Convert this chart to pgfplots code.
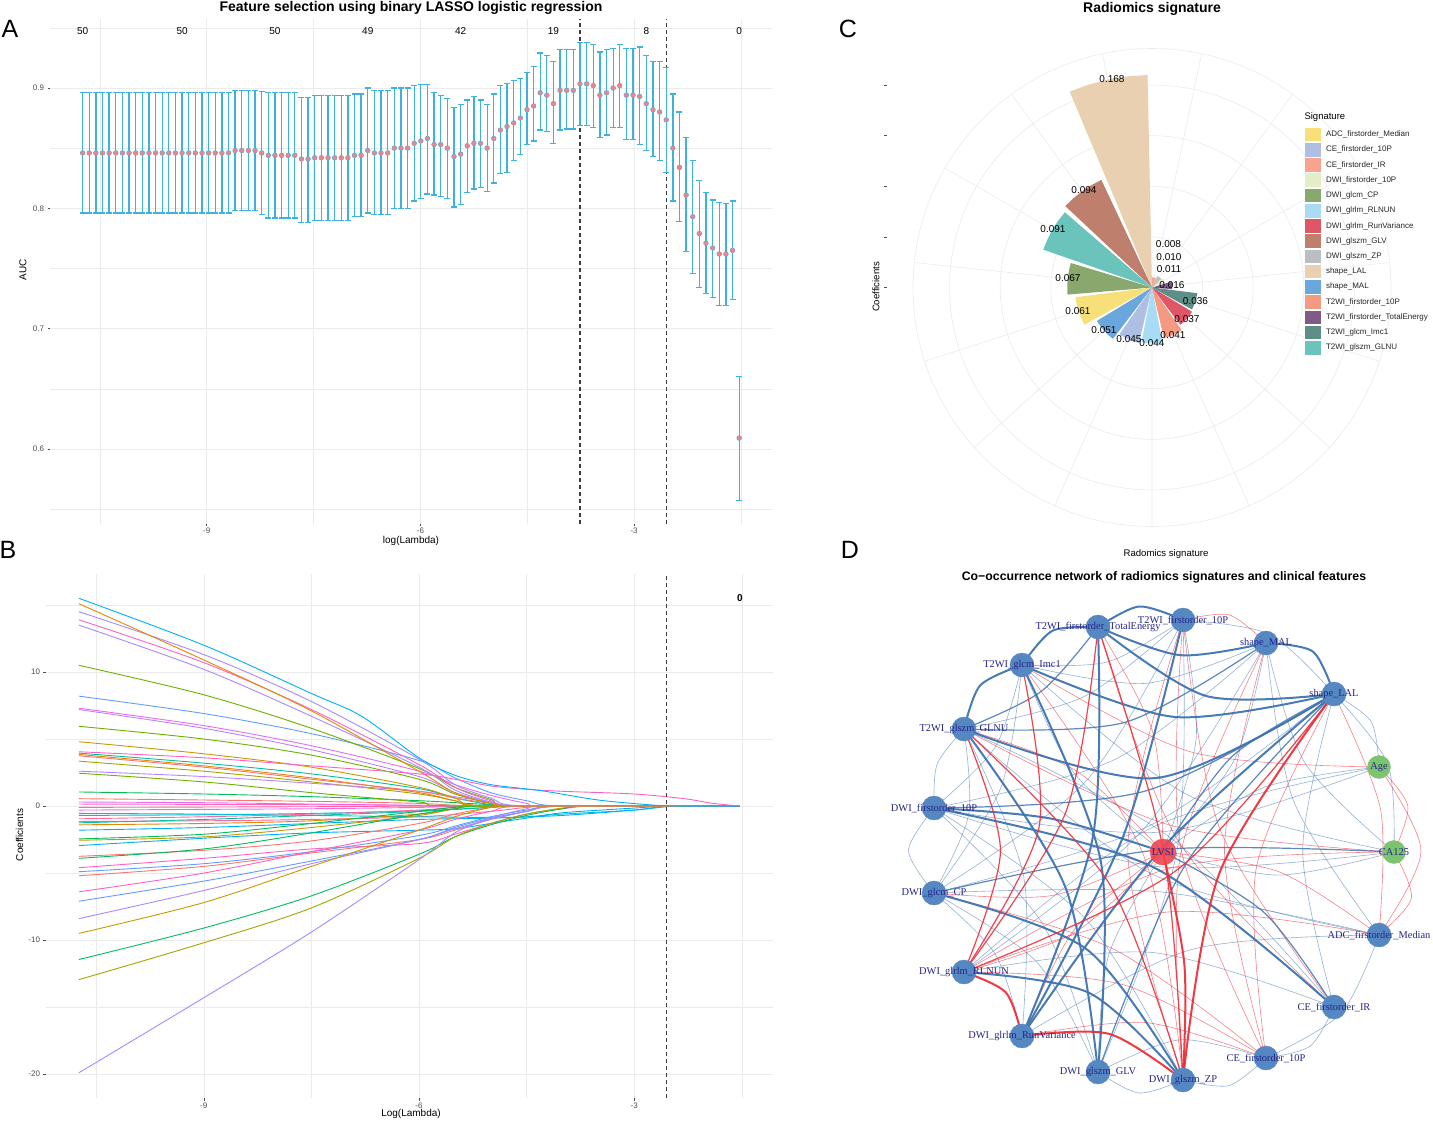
\documentclass[border=0pt]{standalone}
\usepackage{fontspec}
\setmainfont{Liberation Sans}
\newfontfamily\netfont{Liberation Serif}
\usepackage{pgfplots}
\usepackage{pgfplotstable}
\pgfplotsset{compat=1.18}
\usepgfplotslibrary{polar}

\definecolor{gridc}{HTML}{EBEBEB}
\definecolor{tickc}{HTML}{4D4D4D}
\definecolor{errc}{HTML}{3DB3DB}
\definecolor{ptc}{HTML}{E8868C}
\definecolor{dashc}{HTML}{3C3C3C}
% hue palette for coefficient paths
\definecolor{h1}{HTML}{00B0F6}
\definecolor{h2}{HTML}{E58700}
\definecolor{h3}{HTML}{A58AFF}
\definecolor{h4}{HTML}{FF61C3}
\definecolor{h5}{HTML}{6BB100}
\definecolor{h6}{HTML}{619CFF}
\definecolor{h7}{HTML}{B983FF}
\definecolor{h8}{HTML}{C99800}
\definecolor{h9}{HTML}{00BD5C}
\definecolor{h10}{HTML}{00C1A3}
\definecolor{h11}{HTML}{F8766D}
\definecolor{h12}{HTML}{E76BF3}
\definecolor{h13}{HTML}{00BCD8}
\definecolor{h14}{HTML}{A3A500}
\definecolor{h15}{HTML}{FF67A4}
% polar colours
\definecolor{cADC}{HTML}{F7E07A}
\definecolor{cCEt}{HTML}{AEBFE3}
\definecolor{cCEir}{HTML}{F6A48E}
\definecolor{cDWIt}{HTML}{E5EDC7}
\definecolor{cCP}{HTML}{88A86D}
\definecolor{cRLN}{HTML}{A8DCF4}
\definecolor{cRV}{HTML}{DF5767}
\definecolor{cGLV}{HTML}{BF7F6D}
\definecolor{cZP}{HTML}{BABFC4}
\definecolor{cLAL}{HTML}{E8D0B0}
\definecolor{cMAL}{HTML}{6AA7DC}
\definecolor{cTt}{HTML}{F49A82}
\definecolor{cTE}{HTML}{7D5A87}
\definecolor{cIMC}{HTML}{5D8F86}
\definecolor{cGLNU}{HTML}{6BC4BB}
% network colours
\definecolor{nblue}{HTML}{5587C2}
\definecolor{ngreen}{HTML}{7DC46F}
\definecolor{nred}{HTML}{EE4550}
\definecolor{eblue}{HTML}{3E73B1}
\definecolor{ered}{HTML}{EE2E3A}
\definecolor{lblue}{HTML}{24248A}

\newcommand\fsz[1]{\fontsize{#1}{#1}\selectfont}

\pgfplotstableread{
x m lo hi
-10.742 0.846 0.796 0.896
-10.649 0.846 0.796 0.896
-10.556 0.846 0.796 0.896
-10.463 0.846 0.796 0.896
-10.370 0.846 0.796 0.896
-10.277 0.846 0.796 0.896
-10.183 0.846 0.796 0.896
-10.090 0.846 0.796 0.896
-9.997 0.846 0.796 0.896
-9.904 0.846 0.796 0.896
-9.811 0.846 0.796 0.896
-9.718 0.846 0.796 0.896
-9.625 0.846 0.796 0.896
-9.532 0.846 0.796 0.896
-9.439 0.846 0.796 0.896
-9.346 0.846 0.796 0.896
-9.252 0.846 0.796 0.896
-9.159 0.846 0.796 0.896
-9.066 0.846 0.796 0.896
-8.973 0.846 0.796 0.896
-8.880 0.846 0.796 0.896
-8.787 0.846 0.796 0.896
-8.694 0.846 0.796 0.896
-8.601 0.848 0.798 0.898
-8.508 0.848 0.798 0.898
-8.415 0.848 0.798 0.898
-8.321 0.848 0.798 0.898
-8.228 0.846 0.795 0.897
-8.135 0.844 0.792 0.896
-8.042 0.844 0.792 0.896
-7.949 0.844 0.792 0.896
-7.856 0.844 0.792 0.896
-7.763 0.844 0.792 0.896
-7.670 0.841 0.788 0.892
-7.577 0.841 0.788 0.892
-7.484 0.842 0.790 0.894
-7.390 0.842 0.790 0.894
-7.297 0.842 0.790 0.894
-7.204 0.842 0.790 0.894
-7.111 0.842 0.790 0.894
-7.018 0.842 0.790 0.894
-6.925 0.844 0.793 0.895
-6.832 0.844 0.793 0.895
-6.739 0.848 0.796 0.900
-6.646 0.846 0.795 0.898
-6.553 0.846 0.795 0.898
-6.459 0.846 0.795 0.898
-6.366 0.850 0.800 0.900
-6.273 0.850 0.800 0.900
-6.180 0.850 0.800 0.900
-6.087 0.854 0.806 0.902
-5.994 0.856 0.808 0.903
-5.901 0.858 0.812 0.903
-5.808 0.853 0.811 0.896
-5.715 0.853 0.810 0.894
-5.622 0.850 0.808 0.891
-5.528 0.843 0.801 0.884
-5.435 0.845 0.803 0.886
-5.342 0.852 0.813 0.890
-5.249 0.854 0.816 0.893
-5.156 0.854 0.817 0.890
-5.063 0.850 0.814 0.886
-4.970 0.858 0.821 0.895
-4.877 0.865 0.829 0.902
-4.784 0.868 0.830 0.904
-4.691 0.871 0.840 0.906
-4.597 0.875 0.845 0.908
-4.504 0.882 0.853 0.913
-4.411 0.885 0.856 0.918
-4.318 0.896 0.865 0.929
-4.225 0.894 0.864 0.927
-4.132 0.887 0.854 0.922
-4.039 0.898 0.865 0.932
-3.946 0.898 0.866 0.932
-3.853 0.898 0.866 0.932
-3.760 0.9035 0.869 0.938
-3.666 0.9035 0.869 0.938
-3.573 0.902 0.867 0.936
-3.480 0.894 0.859 0.930
-3.387 0.896 0.861 0.932
-3.294 0.900 0.867 0.933
-3.201 0.902 0.867 0.936
-3.108 0.894 0.857 0.933
-3.015 0.894 0.857 0.933
-2.922 0.893 0.853 0.934
-2.829 0.887 0.848 0.927
-2.735 0.882 0.843 0.922
-2.642 0.880 0.840 0.922
-2.549 0.8735 0.830 0.917
-2.456 0.850 0.806 0.895
-2.363 0.834 0.789 0.880
-2.270 0.811 0.764 0.859
-2.177 0.793 0.746 0.840
-2.084 0.779 0.734 0.823
-1.991 0.771 0.729 0.813
-1.898 0.767 0.726 0.807
-1.804 0.762 0.719 0.805
-1.711 0.762 0.719 0.804
-1.618 0.765 0.724 0.806
-1.525 0.609 0.557 0.660
}\aucdata

% network node positions (relative to LVSI)
\def\NTEx{-65}\def\NTEy{225}
\def\NTTx{20}\def\NTTy{232}
\def\NMALx{103}\def\NMALy{209}
\def\NLALx{171}\def\NLALy{158}
\def\NAGEx{216}\def\NAGEy{85}
\def\NCAx{231}\def\NCAy{0}
\def\NADCx{216}\def\NADCy{-83}
\def\NCEIRx{171}\def\NCEIRy{-155}
\def\NCETx{103}\def\NCETy{-206}
\def\NZPx{20}\def\NZPy{-228}
\def\NGLVx{-65}\def\NGLVy{-220}
\def\NRVx{-141}\def\NRVy{-184}
\def\NRLNx{-199}\def\NRLNy{-120}
\def\NCPx{-229}\def\NCPy{-41}
\def\NDTx{-229}\def\NDTy{44}
\def\NGLNUx{-199}\def\NGLNUy{123}
\def\NIMCx{-141}\def\NIMCy{187}
\def\NLVSIx{0}\def\NLVSIy{0}

\newcommand\E[4]{%
  \pgfmathsetmacro\eAx{\csname N#2x\endcsname}%
  \pgfmathsetmacro\eAy{\csname N#2y\endcsname}%
  \pgfmathsetmacro\eBx{\csname N#3x\endcsname}%
  \pgfmathsetmacro\eBy{\csname N#3y\endcsname}%
  \pgfmathsetmacro\eNx{-(\eBy-\eAy)}%
  \pgfmathsetmacro\eNy{\eBx-\eAx}%
  \pgfmathsetmacro\eMx{(\eAx+\eBx)/2}%
  \pgfmathsetmacro\eMy{(\eAy+\eBy)/2}%
  \pgfmathsetmacro\eDt{(\eNx/100)*(-\eMx/100)+(\eNy/100)*(-\eMy/100)}%
  \pgfmathsetmacro\eSg{\eDt<0?-1:1}%
  \pgfmathsetmacro\ePx{\eMx+#4*\eSg*\eNx}%
  \pgfmathsetmacro\ePy{\eMy+#4*\eSg*\eNy}%
  \addplot[#1, smooth] coordinates {(\eAx,\eAy) (\ePx,\ePy) (\eBx,\eBy)};%
}

\tikzset{
  bn/.style={draw=eblue, draw opacity=0.55, line width=0.6pt},
  bm/.style={draw=eblue, draw opacity=0.85, line width=1.2pt},
  bt/.style={draw=eblue, draw opacity=0.95, line width=2pt},
  rn/.style={draw=ered, draw opacity=0.6, line width=0.6pt},
  rm/.style={draw=ered, draw opacity=0.9, line width=1.2pt},
  rt/.style={draw=ered, draw opacity=0.95, line width=2pt},
  cl/.style={line width=0.9pt, smooth},
  nl/.style={font=\netfont\fsz{10.4}, text=lblue},
}

\begin{document}
\begin{tikzpicture}
\path[use as bounding box] (0,0) rectangle (1433pt,-1120pt);

% ---------------- Panel A ----------------
\begin{axis}[
  at={(50pt,-523.5pt)}, anchor=south west,
  scale only axis, width=722pt, height=504.1pt,
  xmin=-11.2, xmax=-1.064, ymin=0.538, ymax=0.957,
  axis line style={draw=none},
  xtick={-9,-6,-3}, xticklabels={-9,-6,-3},
  ytick={0.6,0.7,0.8,0.9}, yticklabels={0.6,0.7,0.8,0.9},
  minor xtick={-10.5,-7.5,-4.5,-1.5},
  minor ytick={0.55,0.65,0.75,0.85,0.95},
  grid=both,
  major grid style={gridc, line width=0.5pt},
  minor grid style={gridc, line width=0.3pt},
  tick align=outside, tick pos=left,
  major tick length=2.5pt, minor tick length=0pt,
  tick style={tickc, line width=0.5pt},
  ticklabel style={font=\fsz{8}, text=tickc},
  xticklabel style={yshift=1.5pt},
  clip=false,
]
\addplot[dashc, line width=1.2pt, dash pattern=on 4pt off 3pt] coordinates {(-3.760,0.538) (-3.760,0.957)};
\addplot[dashc, line width=1.2pt, dash pattern=on 4pt off 3pt] coordinates {(-2.549,0.538) (-2.549,0.957)};
\addplot[errc, line width=1.3pt, only marks, mark=none,
  error bars/.cd, y dir=both, y explicit,
  error bar style={errc, line width=1.3pt, solid},
  error mark options={errc, line width=1.3pt, mark size=3pt, rotate=90}]
  table[x=x, y=m, y error plus expr={\thisrow{hi}-\thisrow{m}}, y error minus expr={\thisrow{m}-\thisrow{lo}}] {\aucdata};
\addplot[ptc, only marks, mark=*, mark size=2pt] table[x=x, y=m] {\aucdata};
\node[font=\fsz{10}] at (axis cs:-10.742,0.9474) {50};
\node[font=\fsz{10}] at (axis cs:-9.346,0.9474) {50};
\node[font=\fsz{10}] at (axis cs:-8.042,0.9474) {50};
\node[font=\fsz{10}] at (axis cs:-6.739,0.9474) {49};
\node[font=\fsz{10}] at (axis cs:-5.435,0.9474) {42};
\node[font=\fsz{10}] at (axis cs:-4.132,0.9474) {19};
\node[font=\fsz{10}] at (axis cs:-2.829,0.9474) {8};
\node[font=\fsz{10}] at (axis cs:-1.525,0.9474) {0};
\end{axis}

% ---------------- Panel B ----------------
\begin{axis}[
  at={(46pt,-1098pt)}, anchor=south west,
  scale only axis, width=727pt, height=523.6pt,
  xmin=-11.2, xmax=-1.064, ymin=-21.78, ymax=17.28,
  axis line style={draw=none},
  xtick={-9,-6,-3}, xticklabels={-9,-6,-3},
  ytick={-20,-10,0,10}, yticklabels={-20,-10,0,10},
  minor xtick={-10.5,-7.5,-4.5,-1.5},
  minor ytick={-15,-5,5,15},
  grid=both,
  major grid style={gridc, line width=0.5pt},
  minor grid style={gridc, line width=0.3pt},
  tick align=outside, tick pos=left,
  major tick length=2.5pt, minor tick length=0pt,
  tick style={tickc, line width=0.5pt},
  ticklabel style={font=\fsz{8}, text=tickc},
  xticklabel style={yshift=1.5pt},
  clip=false,
]
\addplot[h13, cl] coordinates {(-10.742,-0.7)(-9,-0.65)(-7.5,-0.55)(-6,-0.35)(-5,-0.1)(-4.5,0)(-1.525,0)};
\addplot[h12, cl] coordinates {(-10.742,0.3)(-9,0.25)(-7.5,0.15)(-6,0.05)(-5.5,0)(-1.525,0)};
\addplot[h15, cl] coordinates {(-10.742,-1.15)(-9,-1.1)(-7.5,-1.0)(-6,-0.8)(-5,-0.4)(-4.5,-0.1)(-4,0)(-1.525,0)};
\addplot[h9, cl] coordinates {(-10.742,1.05)(-9,0.9)(-7.5,0.7)(-6,0.4)(-5,0.1)(-4.5,0)(-1.525,0)};
\addplot[h11, cl] coordinates {(-10.742,0.55)(-9,0.45)(-7.5,0.35)(-6,0.2)(-5,0)(-1.525,0)};
\addplot[h4, cl] coordinates {(-10.742,0.15)(-7.5,0.1)(-6,0.05)(-5,0)(-1.525,0)};
\addplot[h15, cl] coordinates {(-10.742,-0.1)(-7.5,-0.05)(-5.5,0)(-1.525,0)};
\addplot[h12, cl] coordinates {(-10.742,-0.3)(-7.5,-0.2)(-6,-0.1)(-5,0)(-1.525,0)};
\addplot[h13, cl] coordinates {(-10.742,-0.55)(-9,-0.6)(-7.5,-0.7)(-6,-0.8)(-5,-0.85)(-4.5,-0.8)(-4,-0.6)(-3,-0.3)(-2.4,0)(-1.525,0)};
\addplot[h15, cl] coordinates {(-10.742,-0.95)(-9,-0.8)(-7.5,-0.6)(-6,-0.3)(-5,0)(-1.525,0)};
\addplot[h10, cl] coordinates {(-10.742,-1.25)(-9,-1.0)(-7.5,-0.7)(-6,-0.4)(-5,-0.1)(-4.5,0)(-1.525,0)};
\addplot[h2, cl] coordinates {(-10.742,-1.4)(-9,-1.3)(-7.5,-1.1)(-6,-0.6)(-5.5,-0.2)(-5,0)(-1.525,0)};
\addplot[h1, cl] coordinates {(-10.742,-1.8)(-9,-1.6)(-7.5,-1.3)(-6,-1.0)(-5,-0.9)(-4,-0.7)(-3,-0.3)(-2.5,0)(-1.525,0)};
\addplot[h9, cl] coordinates {(-10.742,-2.45)(-9,-2.1)(-7.5,-1.3)(-6,-0.4)(-5.5,-0.1)(-5,0)(-1.525,0)};
\addplot[h8, cl] coordinates {(-10.742,-2.55)(-9,-2.3)(-7.5,-1.6)(-6,-0.7)(-5.5,-0.2)(-5,0)(-1.525,0)};
\addplot[h1, cl] coordinates {(-10.742,-2.95)(-9,-2.4)(-7.5,-2.0)(-6,-1.8)(-5.5,-1.7)(-5,-1.3)(-4.5,-0.9)(-4,-0.5)(-3,-0.15)(-2.5,0)(-1.525,0)};
\addplot[h11, cl] coordinates {(-10.742,-3.75)(-9,-3.3)(-7.5,-2.6)(-6,-1.3)(-5.5,-0.6)(-5,-0.1)(-4.7,0)(-1.525,0)};
\addplot[h9, cl] coordinates {(-10.742,-3.9)(-9,-3.2)(-7.5,-2.0)(-6,-0.6)(-5.5,-0.2)(-5,0)(-1.525,0)};
\addplot[h4, cl] coordinates {(-10.742,-4.6)(-9,-3.9)(-7.5,-3.2)(-6,-2.8)(-5.5,-2.1)(-5,-1.3)(-4.5,-0.6)(-4,-0.2)(-3.5,0)(-1.525,0)};
\addplot[h6, cl] coordinates {(-10.742,-4.9)(-9,-4.3)(-7.5,-3.4)(-6,-2.2)(-5.5,-1.5)(-5,-0.8)(-4.5,-0.3)(-4,0)(-1.525,0)};
\addplot[h11, cl] coordinates {(-10.742,-5.2)(-9,-4.5)(-7.5,-3.5)(-6,-2.5)(-5.5,-1.8)(-5,-1.0)(-4.5,-0.4)(-4,0)(-1.525,0)};
\addplot[h4, cl] coordinates {(-10.742,-6.4)(-9,-5.0)(-7.5,-3.4)(-6,-1.8)(-5.5,-1.0)(-5,-0.4)(-4.5,0)(-1.525,0)};
\addplot[h6, cl] coordinates {(-10.742,-7.1)(-9,-5.6)(-7.5,-4.1)(-6,-2.5)(-5.5,-1.6)(-5,-0.9)(-4.5,-0.4)(-4,0)(-1.525,0)};
\addplot[h3, cl] coordinates {(-10.742,-8.4)(-9,-6.3)(-7.5,-4.3)(-6,-2.5)(-5.5,-1.7)(-5,-1.0)(-4.5,-0.4)(-4,0)(-1.525,0)};
\addplot[h8, cl] coordinates {(-10.742,-9.5)(-9,-7.2)(-7.5,-4.5)(-6,-1.8)(-5.5,-0.8)(-5,-0.1)(-4.7,0)(-1.525,0)};
\addplot[h9, cl] coordinates {(-10.742,-11.45)(-9,-9.1)(-7.5,-6.7)(-6,-3.6)(-5.5,-2.3)(-5,-1.4)(-4.5,-0.7)(-4,-0.2)(-3.6,0)(-1.525,0)};
\addplot[h14, cl] coordinates {(-10.742,-12.95)(-9,-10.2)(-7.5,-7.6)(-6,-3.9)(-5.5,-2.3)(-5,-1.3)(-4.5,-0.6)(-4,-0.15)(-3.6,0)(-1.525,0)};
\addplot[h3, cl] coordinates {(-10.742,-19.9)(-9,-14.3)(-7.5,-9.4)(-6,-4.0)(-5.5,-2.0)(-5,-0.9)(-4.5,-0.2)(-4.2,0)(-1.525,0)};
\addplot[h14, cl] coordinates {(-10.742,3.35)(-9,2.6)(-7.5,1.8)(-6,0.9)(-5.5,0.4)(-5,0)(-1.525,0)};
\addplot[h7, cl] coordinates {(-10.742,2.6)(-9,2.2)(-7.5,1.7)(-6,1.1)(-5.5,0.7)(-5,0.3)(-4.5,0)(-1.525,0)};
\addplot[h5, cl] coordinates {(-10.742,2.45)(-9,1.8)(-7.5,1.0)(-6,0.3)(-5.5,0)(-1.525,0)};
\addplot[h10, cl] coordinates {(-10.742,3.95)(-9,3.2)(-7.5,2.4)(-6,1.3)(-5.5,0.6)(-5,0.1)(-4.7,0)(-1.525,0)};
\addplot[h2, cl] coordinates {(-10.742,3.85)(-9,3.0)(-7.5,2.1)(-6,1.0)(-5.5,0.4)(-5,0)(-1.525,0)};
\addplot[h11, cl] coordinates {(-10.742,3.75)(-9,2.9)(-7.5,2.0)(-6,1.1)(-5.5,0.6)(-5,0.2)(-4.6,0)(-1.525,0)};
\addplot[h8, cl] coordinates {(-10.742,4.8)(-9,3.9)(-7.5,2.9)(-6,1.4)(-5.5,0.6)(-5,0)(-1.525,0)};
\addplot[h5, cl] coordinates {(-10.742,5.95)(-9,5.0)(-7.5,3.8)(-6,2.0)(-5.5,0.9)(-5,0.2)(-4.7,0)(-1.525,0)};
\addplot[h7, cl] coordinates {(-10.742,7.2)(-9,5.8)(-7.5,4.2)(-6,2.2)(-5.5,1.0)(-5,0.3)(-4.6,0)(-1.525,0)};
\addplot[h12, cl] coordinates {(-10.742,7.3)(-9,6.0)(-7.5,4.5)(-6,2.6)(-5.5,1.6)(-5,0.8)(-4.5,0.2)(-4.2,0)(-1.525,0)};
\addplot[h6, cl] coordinates {(-10.742,8.2)(-9,6.9)(-7.5,5.4)(-6,3.4)(-5.5,2.1)(-5,1.0)(-4.5,0.4)(-4,0)(-1.525,0)};
\addplot[h5, cl] coordinates {(-10.742,10.5)(-9,8.3)(-7.5,5.8)(-6,2.8)(-5.5,1.4)(-5,0.5)(-4.6,0)(-1.525,0)};
\addplot[h3, cl] coordinates {(-10.742,13.5)(-9,10.2)(-7.5,6.7)(-6,2.9)(-5.5,1.2)(-5,0.3)(-4.6,0)(-1.525,0)};
\addplot[h4, cl] coordinates {(-10.742,13.9)(-9,10.7)(-7.5,7.2)(-6,3.1)(-5.5,1.4)(-5,0.4)(-4.6,0)(-1.525,0)};
\addplot[h3, cl] coordinates {(-10.742,14.5)(-9,11.3)(-7.5,7.8)(-6,3.5)(-5.5,1.6)(-5,0.6)(-4.5,0)(-1.525,0)};
\addplot[h2, cl] coordinates {(-10.742,15.1)(-9,10.9)(-7.5,7.1)(-6,2.6)(-5.5,1.0)(-5,0.2)(-4.6,0)(-1.525,0)};
\addplot[h4, cl] coordinates {(-10.742,4.05)(-9,3.6)(-7.5,3.0)(-6,2.4)(-5.5,2.0)(-5,1.5)(-4.5,1.25)(-4,1.1)(-3,0.9)(-2.3,0.55)(-1.9,0.2)(-1.525,0)};
\addplot[h1, cl] coordinates {(-10.742,15.5)(-9,12.0)(-7.5,8.4)(-6.8,6.7)(-6,3.6)(-5.5,2.3)(-5,1.6)(-4.3,1.15)(-3.5,0.45)(-2.8,0.1)(-2.4,0)(-1.525,0)};
\addplot[dashc, line width=1.2pt, dash pattern=on 4pt off 3pt] coordinates {(-2.549,-21.78) (-2.549,17.28)};
\node[font=\bfseries\fsz{10}] at (axis cs:-1.525,15.52) {0};
\end{axis}

% ---------------- Panel C ----------------
\begin{polaraxis}[
  at={(1152pt,-287.5pt)}, anchor=center,
  scale only axis, width=478pt, height=478pt,
  ymin=0, ymax=0.1889,
  xtick={6,30,...,342}, ytick={0.04,0.08,0.12,0.16},
  xticklabels={}, yticklabels={},
  grid=major, major grid style={gridc, line width=0.6pt},
  x axis line style={gridc, line width=0.6pt},
  y axis line style={draw=none},
  major tick length=0pt,
  clip=false,
]
\addplot[fill=cLAL, draw=none] coordinates {(91.2,0) (91.2,0.168) (96.6,0.168) (102,0.168) (107.4,0.168) (112.8,0.168) (112.8,0)};
\addplot[fill=cGLV, draw=none] coordinates {(115.2,0) (115.2,0.094) (120.6,0.094) (126,0.094) (131.4,0.094) (136.8,0.094) (136.8,0)};
\addplot[fill=cGLNU, draw=none] coordinates {(139.2,0) (139.2,0.091) (144.6,0.091) (150,0.091) (155.4,0.091) (160.8,0.091) (160.8,0)};
\addplot[fill=cCP, draw=none] coordinates {(163.2,0) (163.2,0.067) (168.6,0.067) (174,0.067) (179.4,0.067) (184.8,0.067) (184.8,0)};
\addplot[fill=cADC, draw=none] coordinates {(187.2,0) (187.2,0.061) (192.6,0.061) (198,0.061) (203.4,0.061) (208.8,0.061) (208.8,0)};
\addplot[fill=cMAL, draw=none] coordinates {(211.2,0) (211.2,0.051) (216.6,0.051) (222,0.051) (227.4,0.051) (232.8,0.051) (232.8,0)};
\addplot[fill=cCEt, draw=none] coordinates {(235.2,0) (235.2,0.045) (240.6,0.045) (246,0.045) (251.4,0.045) (256.8,0.045) (256.8,0)};
\addplot[fill=cRLN, draw=none] coordinates {(259.2,0) (259.2,0.044) (264.6,0.044) (270,0.044) (275.4,0.044) (280.8,0.044) (280.8,0)};
\addplot[fill=cTt, draw=none] coordinates {(283.2,0) (283.2,0.041) (288.6,0.041) (294,0.041) (299.4,0.041) (304.8,0.041) (304.8,0)};
\addplot[fill=cRV, draw=none] coordinates {(307.2,0) (307.2,0.037) (312.6,0.037) (318,0.037) (323.4,0.037) (328.8,0.037) (328.8,0)};
\addplot[fill=cIMC, draw=none] coordinates {(331.2,0) (331.2,0.036) (336.6,0.036) (342,0.036) (347.4,0.036) (352.8,0.036) (352.8,0)};
\addplot[fill=cTE, draw=none] coordinates {(355.2,0) (355.2,0.016) (0.6,0.016) (6,0.016) (11.4,0.016) (16.8,0.016) (16.8,0)};
\addplot[fill=cDWIt, draw=none] coordinates {(19.2,0) (19.2,0.011) (24.6,0.011) (30,0.011) (35.4,0.011) (40.8,0.011) (40.8,0)};
\addplot[fill=cZP, draw=none] coordinates {(43.2,0) (43.2,0.010) (48.6,0.010) (54,0.010) (59.4,0.010) (64.8,0.010) (64.8,0)};
\addplot[fill=cCEir, draw=none] coordinates {(67.2,0) (67.2,0.008) (72.6,0.008) (78,0.008) (83.4,0.008) (88.8,0.008) (88.8,0)};
\end{polaraxis}

% ---------------- Panel D ----------------
\begin{axis}[
  at={(903pt,-1112pt)}, anchor=south west,
  x=1pt, y=1pt,
  xmin=-260, xmax=260, ymin=-260, ymax=260,
  hide axis, clip=false,
]
% thin blue
\E{bn}{TT}{LAL}{-0.15}
\E{bn}{TT}{LVSI}{0.1}
\E{bn}{TT}{GLNU}{0.1}
\E{bn}{TT}{IMC}{0.12}
\E{bn}{TT}{CP}{0.1}
\E{bn}{TT}{GLV}{0.08}
\E{bn}{MAL}{IMC}{0.12}
\E{bn}{MAL}{DT}{0.1}
\E{bn}{MAL}{RLN}{0.08}
\E{bn}{MAL}{CA}{0.12}
\E{bn}{MAL}{ADC}{0.1}
\E{bn}{MAL}{LVSI}{0.1}
\E{bn}{LAL}{CA}{-0.15}
\E{bn}{LAL}{AGE}{-0.2}
\E{bn}{LAL}{CEIR}{0.1}
\E{bn}{LAL}{CP}{0.08}
\E{bn}{AGE}{DT}{0.1}
\E{bn}{AGE}{RLN}{0.1}
\E{bn}{AGE}{LVSI}{0.1}
\E{bn}{CA}{DT}{0.08}
\E{bn}{CA}{LVSI}{0.1}
\E{bn}{CA}{IMC}{0.1}
\E{bn}{ADC}{CET}{-0.15}
\E{bn}{ADC}{RV}{0.1}
\E{bn}{ADC}{GLNU}{0.1}
\E{bn}{ADC}{CP}{0.05}
\E{bn}{CEIR}{CET}{-0.2}
\E{bn}{CEIR}{RLN}{0.1}
\E{bn}{CEIR}{GLNU}{0.08}
\E{bn}{CET}{ZP}{-0.2}
\E{bn}{CET}{GLV}{0.15}
\E{bn}{ZP}{GLV}{-0.2}
\E{bn}{ZP}{DT}{0.1}
\E{bn}{GLV}{DT}{0.1}
\E{bn}{GLV}{CP}{0.12}
\E{bn}{GLV}{LVSI}{0.1}
\E{bn}{RV}{CP}{0.12}
\E{bn}{RV}{GLNU}{0.1}
\E{bn}{CP}{DT}{-0.3}
\E{bn}{CP}{GLNU}{0.12}
\E{bn}{CP}{IMC}{0.1}
\E{bn}{DT}{GLNU}{-0.15}
\E{bn}{DT}{IMC}{0.12}
\E{bn}{IMC}{LVSI}{0.1}
% thin red
\E{rn}{TT}{MAL}{-0.2}
\E{rn}{TT}{CET}{0.1}
\E{rn}{TT}{ZP}{0.12}
\E{rn}{TT}{CEIR}{0.1}
\E{rn}{MAL}{CET}{0.1}
\E{rn}{MAL}{ZP}{0.1}
\E{rn}{LAL}{CET}{0.12}
\E{rn}{LAL}{ADC}{-0.1}
\E{rn}{AGE}{CA}{-0.25}
\E{rn}{AGE}{ADC}{-0.25}
\E{rn}{AGE}{IMC}{0.1}
\E{rn}{CA}{ADC}{-0.3}
\E{rn}{CA}{GLNU}{0.08}
\E{rn}{CA}{RLN}{0.1}
\E{rn}{ADC}{RLN}{0.1}
\E{rn}{ADC}{LVSI}{0.1}
\E{rn}{CET}{RV}{0.1}
\E{rn}{CET}{RLN}{0.1}
\E{rn}{RV}{LVSI}{0.1}
\E{rn}{RLN}{LVSI}{0.1}
\E{rn}{CP}{LVSI}{0.1}
\E{rn}{CP}{CET}{0.08}
\E{rn}{GLNU}{LVSI}{0.1}
\E{rn}{TE}{LVSI}{0.1}
\E{rn}{IMC}{ZP}{0.1}
\E{rn}{TE}{CEIR}{0.1}
% medium blue
\E{bm}{GLNU}{TE}{0.1}
\E{bm}{DT}{LAL}{0.1}
\E{bm}{CP}{CA}{0.05}
\E{bm}{GLV}{LAL}{0.08}
\E{bm}{LVSI}{CEIR}{0.1}
\E{bm}{LVSI}{LAL}{0.1}
\E{bm}{MAL}{GLNU}{0.12}
% thick blue
\E{bt}{TE}{LAL}{0.15}
\E{bt}{IMC}{LAL}{0.12}
\E{bt}{GLNU}{LAL}{0.18}
\E{bt}{TE}{MAL}{0.12}
\E{bt}{TE}{TT}{-0.2}
\E{bt}{TE}{IMC}{-0.2}
\E{bt}{IMC}{GLNU}{-0.2}
\E{bt}{GLNU}{GLV}{0.1}
\E{bt}{IMC}{GLV}{0.1}
\E{bt}{TE}{RV}{0.08}
\E{bt}{TT}{RV}{0.05}
\E{bt}{RV}{LAL}{0.05}
\E{bt}{DT}{LVSI}{0.05}
\E{bt}{DT}{CEIR}{0.1}
\E{bt}{CP}{ZP}{0.15}
\E{bt}{RLN}{ZP}{0.15}
\E{bt}{MAL}{LAL}{-0.25}
% red medium / thick
\E{rm}{IMC}{RLN}{0.15}
\E{rm}{GLNU}{ZP}{0.1}
\E{rm}{GLNU}{RLN}{0.15}
\E{rm}{TE}{RLN}{0.1}
\E{rm}{TE}{ZP}{0.05}
\E{rm}{LAL}{RLN}{0.1}
\E{rt}{RLN}{RV}{0.2}
\E{rt}{RV}{ZP}{0.15}
\E{rt}{LVSI}{ZP}{0.05}
\E{rt}{LAL}{ZP}{0.1}
% nodes
\addplot[nblue, only marks, mark=*, mark size=12pt] coordinates {
(-65,225) (20,232) (103,209) (171,158) (216,-83) (171,-155) (103,-206) (20,-228)
(-65,-220) (-141,-184) (-199,-120) (-229,-41) (-229,44) (-199,123) (-141,187)};
\addplot[ngreen, only marks, mark=*, mark size=11.5pt] coordinates {(216,85) (231,0)};
\addplot[nred, only marks, mark=*, mark size=13pt, opacity=0.9] coordinates {(0,0)};
\end{axis}

% network labels (on top of nodes)
\begin{scope}[every node/.style={nl}]
\node at (1098pt,-627pt) {T2WI\_firstorder\_TotalEnergy};
\node at (1183pt,-620pt) {T2WI\_firstorder\_10P};
\node at (1266pt,-643pt) {shape\_MAL};
\node at (1334pt,-694pt) {shape\_LAL};
\node at (1379pt,-767pt) {Age};
\node at (1394pt,-852pt) {CA125};
\node at (1379pt,-935pt) {ADC\_firstorder\_Median};
\node at (1334pt,-1007pt) {CE\_firstorder\_IR};
\node at (1266pt,-1058pt) {CE\_firstorder\_10P};
\node at (1183pt,-1080pt) {DWI\_glszm\_ZP};
\node at (1098pt,-1072pt) {DWI\_glszm\_GLV};
\node at (1022pt,-1036pt) {DWI\_glrlm\_RunVariance};
\node at (964pt,-972pt) {DWI\_glrlm\_RLNUN};
\node at (934pt,-893pt) {DWI\_glcm\_CP};
\node at (934pt,-808pt) {DWI\_firstorder\_10P};
\node at (964pt,-729pt) {T2WI\_glszm\_GLNU};
\node at (1022pt,-665pt) {T2WI\_glcm\_Imc1};
\node at (1163pt,-852pt) {LVSI};
\end{scope}

% ---------------- texts ----------------
\node[font=\bfseries\fsz{14}] at (411pt,-7.5pt) {Feature selection using binary LASSO logistic regression};
\node[font=\fsz{10}, rotate=90] at (23pt,-270pt) {AUC};
\node[font=\fsz{10}] at (411pt,-541pt) {log(Lambda)};
\node[font=\fsz{10}, rotate=90] at (19.5pt,-835pt) {Coefficients};
\node[font=\fsz{10}] at (411pt,-1113.5pt) {Log(Lambda)};

\node[font=\bfseries\fsz{14}] at (1152pt,-9pt) {Radiomics signature};
\node[font=\fsz{9.6}, rotate=90] at (876pt,-287pt) {Coefficients};
\node[font=\fsz{9.6}] at (1166pt,-554pt) {Radomics signature};
\foreach \yy in {85,135.6,186.2,236.9,287.5} {\draw[tickc, line width=0.6pt] (884pt,-\yy pt) -- (887pt,-\yy pt);}
\begin{scope}[every node/.style={font=\fsz{10}}]
\node at (1112pt,-79pt) {0.168};
\node at (1084pt,-190pt) {0.094};
\node at (1053pt,-229pt) {0.091};
\node at (1068pt,-278pt) {0.067};
\node at (1078pt,-311pt) {0.061};
\node at (1104pt,-330pt) {0.051};
\node at (1129pt,-339pt) {0.045};
\node at (1152pt,-343.5pt) {0.044};
\node at (1173pt,-335pt) {0.041};
\node at (1187pt,-319pt) {0.037};
\node at (1195.5pt,-301pt) {0.036};
\node at (1172pt,-285.5pt) {0.016};
\node at (1169pt,-269.5pt) {0.011};
\node at (1169pt,-257pt) {0.010};
\node at (1168.5pt,-244.5pt) {0.008};
\end{scope}
\node[anchor=west, font=\fsz{9.5}] at (1301pt,-117pt) {Signature};
\foreach \cc/\tt [count=\i from 0] in {cADC/ADC\_firstorder\_Median, cCEt/CE\_firstorder\_10P, cCEir/CE\_firstorder\_IR, cDWIt/DWI\_firstorder\_10P, cCP/DWI\_glcm\_CP, cRLN/DWI\_glrlm\_RLNUN, cRV/DWI\_glrlm\_RunVariance, cGLV/DWI\_glszm\_GLV, cZP/DWI\_glszm\_ZP, cLAL/shape\_LAL, cMAL/shape\_MAL, cTt/T2WI\_firstorder\_10P, cTE/T2WI\_firstorder\_TotalEnergy, cIMC/T2WI\_glcm\_Imc1, cGLNU/T2WI\_glszm\_GLNU} {
  \pgfmathsetmacro\yc{134.5+15.24*\i}
  \fill[\cc] (1305pt,-\yc pt+6.8pt) rectangle (1320.5pt,-\yc pt-6.8pt);
  \node[anchor=west, font=\fsz{8}, text=black!85] at (1322.5pt,-\yc pt) {\tt};
}

\node[font=\bfseries\fsz{12.3}] at (1164pt,-577pt) {Co−occurrence network of radiomics signatures and clinical features};

\node[font=\fsz{25}] at (10pt,-29pt) {A};
\node[font=\fsz{25}] at (8pt,-550pt) {B};
\node[font=\fsz{25}] at (848pt,-29pt) {C};
\node[font=\fsz{25}] at (850pt,-550pt) {D};
\end{tikzpicture}
\end{document}
